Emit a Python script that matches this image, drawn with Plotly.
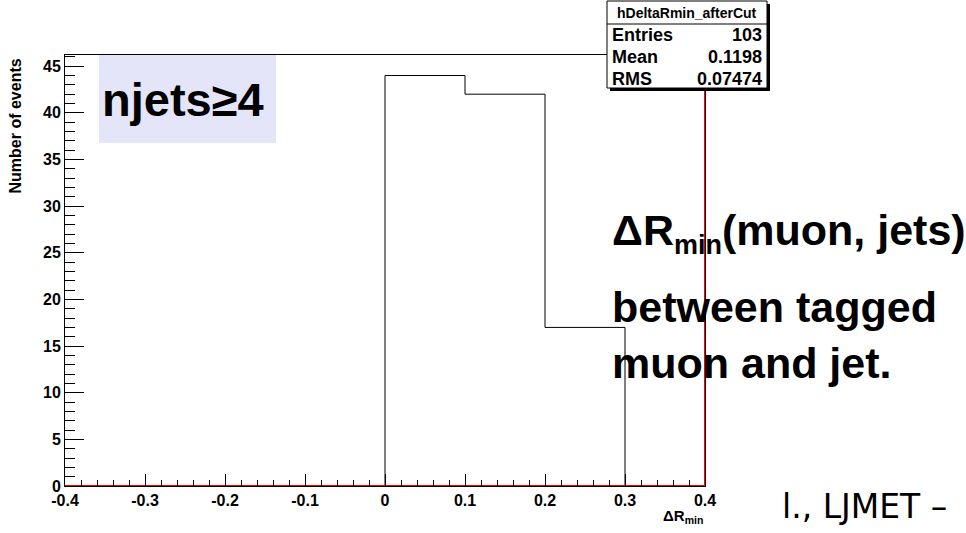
import plotly.graph_objects as go

# ---------------- data ----------------
bin_edges = [-0.4, -0.3, -0.2, -0.1, 0.0, 0.1, 0.2, 0.3, 0.4]
bin_counts = [0, 0, 0, 0, 44, 42, 17, 0]
x_tick_vals = [-0.4, -0.3, -0.2, -0.1, 0.0, 0.1, 0.2, 0.3, 0.4]
x_tick_text = ["-0.4", "-0.3", "-0.2", "-0.1", "0", "0.1", "0.2", "0.3", "0.4"]
y_tick_vals = [0, 5, 10, 15, 20, 25, 30, 35, 40, 45]
hist_name = "hDeltaRmin_afterCut"
stats_labels = ["Entries", "Mean", "RMS"]
stats_values = ["103", "0.1198", "0.07474"]
x_title = "ΔR<sub>min</sub>"
y_title = "Number of events"
cut_label = "njets≥4"
note_lines = ["ΔR<sub><span style='font-size:27px'>min</span></sub>(muon, jets)",
              "between tagged", "muon and jet."]
footer_text = "l., LJMET –"

y_max = 1.05 * max(bin_counts)
x_min, x_max = bin_edges[0], bin_edges[-1]

# ---------------- geometry helpers (pixels -> paper) ----------------
W, H = 966, 533
L, R, T, B = 65, 705, 55, 486


def px(x):
    return (x - L) / (R - L)


def py(y):
    return (B - y) / (B - T)


FONT = "Liberation Sans, Arial, Helvetica, sans-serif"

fig = go.Figure()

# histogram outline
fig.add_trace(go.Scatter(
    x=bin_edges, y=bin_counts + [bin_counts[-1]],
    mode="lines", line=dict(color="black", width=1, shape="hv"),
    hoverinfo="skip", showlegend=False, cliponaxis=False,
))

# red overlay along the bottom and right edge
fig.add_trace(go.Scatter(
    x=[x_min, x_max, x_max], y=[0, 0, y_max],
    mode="lines", line=dict(color="#ff0000", width=2),
    hoverinfo="skip", showlegend=False, cliponaxis=False,
))

shapes = []
# njets box
shapes.append(dict(type="rect", xref="paper", yref="paper",
                   x0=px(99), x1=px(276), y0=py(143), y1=py(55),
                   fillcolor="#e5e5fa", line=dict(width=0), layer="below"))
# stats box shadow + box
shapes.append(dict(type="rect", xref="paper", yref="paper",
                   x0=px(610), x1=px(770), y0=py(91), y1=py(4),
                   fillcolor="black", line=dict(width=0), layer="above"))
shapes.append(dict(type="rect", xref="paper", yref="paper",
                   x0=px(607), x1=px(767), y0=py(88), y1=py(1),
                   fillcolor="white", line=dict(color="black", width=1), layer="above"))
shapes.append(dict(type="line", xref="paper", yref="paper",
                   x0=px(607), x1=px(767), y0=py(24), y1=py(24),
                   line=dict(color="black", width=1), layer="above"))

ann = []
ann.append(dict(text="<b>" + hist_name + "</b>", x=px(687), y=py(13), xref="paper", yref="paper",
                xanchor="center", yanchor="middle", showarrow=False,
                font=dict(family=FONT, size=14, color="black")))
for i, (lab, val) in enumerate(zip(stats_labels, stats_values)):
    yc = 35 + 22 * i
    ann.append(dict(text="<b>" + lab + "</b>", x=px(610), y=py(yc), xref="paper", yref="paper",
                    xanchor="left", yanchor="middle", showarrow=False,
                    font=dict(family=FONT, size=18, color="black")))
    ann.append(dict(text="<b>" + val + "</b>", x=px(764), y=py(yc), xref="paper", yref="paper",
                    xanchor="right", yanchor="middle", showarrow=False,
                    font=dict(family=FONT, size=18, color="black")))

# njets label
ann.append(dict(text="<b>" + cut_label + "</b>", x=px(100), y=py(99), xref="paper", yref="paper",
                xanchor="left", yanchor="middle", showarrow=False,
                font=dict(family=FONT, size=47, color="black")))

# note lines
note_y = [233, 307, 363]
for t, yc in zip(note_lines, note_y):
    ann.append(dict(text="<b>" + t + "</b>", x=px(610), y=py(yc), xref="paper", yref="paper",
                    xanchor="left", yanchor="middle", showarrow=False,
                    font=dict(family=FONT, size=43, color="black")))

# axis titles
ann.append(dict(text="<b>" + x_title + "</b>", x=px(705), y=py(516), xref="paper", yref="paper",
                xanchor="right", yanchor="middle", showarrow=False,
                font=dict(family=FONT, size=15, color="black")))
ann.append(dict(text="<b>" + y_title + "</b>", x=px(15), y=py(57), xref="paper", yref="paper",
                xanchor="center", yanchor="top", textangle=-90, showarrow=False,
                font=dict(family=FONT, size=16, color="black")))

# footer text
ann.append(dict(text=footer_text, x=px(780), y=py(506), xref="paper", yref="paper",
                xanchor="left", yanchor="middle", showarrow=False,
                font=dict(family="DejaVu Sans", size=33, color="black")))

fig.update_layout(
    width=W, height=H,
    margin=dict(l=L, r=W - R, t=T, b=H - B, pad=0),
    paper_bgcolor="white", plot_bgcolor="white",
    shapes=shapes, annotations=ann,
    showlegend=False,
    xaxis=dict(
        range=[x_min, x_max], tickvals=x_tick_vals, ticktext=x_tick_text,
        ticks="inside", ticklen=12, tickwidth=1, tickcolor="black",
        minor=dict(dtick=0.02, tick0=0, ticks="inside", ticklen=6, tickcolor="black", showgrid=False),
        showline=True, linecolor="black", linewidth=1, mirror=True,
        showgrid=False, zeroline=False,
        tickfont=dict(family=FONT, size=16, color="black", weight="bold"),
    ),
    yaxis=dict(
        range=[0, y_max], tickvals=y_tick_vals,
        ticks="inside", ticklen=19, tickwidth=1, tickcolor="black",
        minor=dict(dtick=1, tick0=0, ticks="inside", ticklen=10, tickcolor="black", showgrid=False),
        showline=True, linecolor="black", linewidth=1, mirror=True,
        showgrid=False, zeroline=False,
        tickfont=dict(family=FONT, size=16, color="black", weight="bold"),
    ),
)

# remove the browser's default page margin so the figure sits at the window origin
fig.write_html("out.html", config={"displayModeBar": False},
               post_script="document.body.style.margin='0';")
